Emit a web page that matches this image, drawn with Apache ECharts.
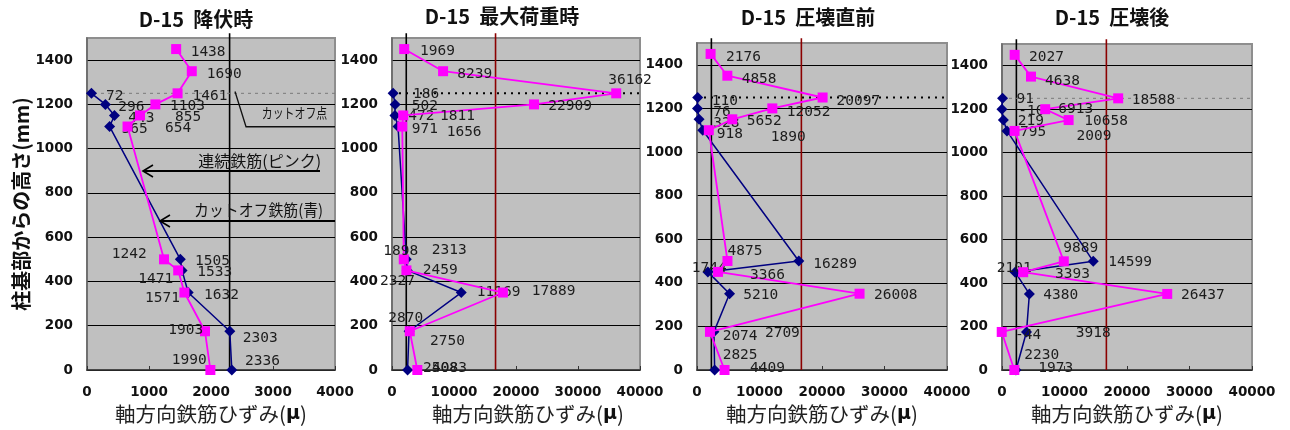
<!DOCTYPE html>
<html>
<head>
<meta charset="utf-8">
<script src="https://cdn.jsdelivr.net/npm/echarts@6/dist/echarts.min.js"></script>
<style>
  html, body { margin: 0; padding: 0; background: #fff; }
  #chart { width: 1290px; height: 430px; }
</style>
</head>
<body>
<div id="chart"></div>
<script>
// Gauge heights above the column base (mm)
const heightsCutoff = [1250, 1200, 1150, 1100, 500, 450, 350, 175, 0];
const heightsContinuous = [1450, 1350, 1250, 1200, 1150, 1100, 500, 450, 350, 175, 0];

const stageTitles = ['D-15  降伏時', 'D-15  最大荷重時', 'D-15  圧壊直前', 'D-15  圧壊後'];

// Axial strain of the cut-off bars (blue), one list per loading stage (μ)
const cutoffYield   = [72, 296, 443, 365, 1505, 1533, 1632, 2303, 2336];
const cutoffPeak    = [186, 502, 472, 971, 2313, 2459, 11169, 2750, 2508];
const cutoffPreCrush = [110, 76, 328, 918, 16289, 1744, 5210, 2709, 2825];
const cutoffPostCrush = [91, -10, 219, 795, 14599, 2101, 4380, 3918, 2230];

// Axial strain of the continuous bars (pink), one list per loading stage (μ)
const contYield   = [1438, 1690, 1461, 1103, 855, 654, 1242, 1471, 1571, 1903, 1990];
const contPeak    = [1969, 8239, 36162, 22909, 1811, 1656, 1898, 2327, 17889, 2870, 4083];
const contPreCrush = [2176, 4858, 20097, 12052, 5652, 1890, 4875, 3366, 26008, 2074, 4409];
const contPostCrush = [2027, 4638, 18588, 6913, 10658, 2009, 9889, 3393, 26437, -44, 1973];

// Reference values
const yieldStrain = 2300;
const hardeningStrain = 16700;
const cutoffHeight = 1250;

// X axis extents per panel
const xMaxList = [4000, 40000, 40000, 40000];
const xStepList = [1000, 10000, 10000, 10000];

// Label placement: [dx, dy, 'r'?] relative to the marker centre
const labCut = [
  [[14.5, 3.3], [13, 3], [13.8, 3.2], [12, 3], [14.7, 1.7], [15.3, 2], [15.8, 2.5], [13, 6.7], [13.2, -8.5]],
  [[19.8, 0.6], [16.6, 2], [13.4, 1.2], [13.7, 2.6], [25.4, -9.3], [15.5, -0.4], [15.5, 0], [21, 9.7], [15.5, -2]],
  [[14, 4.2], [15.8, 4], [14.3, 3.7], [14, 4.3], [14.5, 3.7], [-16.2, -3.6], [13.7, 2], [51, 1.4], [8, -14.7]],
  [[14, 1.4], [16.4, 1.6], [14.3, 1.4], [13, 1.2], [15.1, 1], [-18.4, -4.2], [13.9, 1.7], [49.2, 1.3], [8.4, -15]]
];
const labCont = [
  [[14.5, 3], [15, 2.6], [15, 2.6], [14.6, 1.4], [35, 1.5], [37.5, 1.7], [-17.3, -5.3, 'r'], [-5, 8.6, 'r'], [-4.4, 5.5, 'r'], [-1.7, -1.3, 'r'], [-3.7, -9.3, 'r']],
  [[15.8, 2], [14.2, 2.8], [-8, -12.6], [14.3, 1.4], [36.8, 1.2], [44.4, 6], [-20.5, -7.6], [-26.4, 10.4], [28.8, -0.8], [-21.5, -13.3], [14.7, -1.7]],
  [[15.4, 3.6], [14.3, 4], [14, 4.2], [14.4, 3.6], [14.4, 2.4], [62, 6.8], [0, -10], [32, 3], [14.4, 2], [12.7, 4.8], [25.4, -2]],
  [[14.3, 2.6], [14, 4.2], [13.5, 2.4], [13.1, -0.2], [15.7, 1.6], [62, 5.7], [-0.5, -12.6], [31.8, 2.5], [13.8, 1.7], [13.3, 3.3], [24, -2]]
];

const cutoffSets = [cutoffYield, cutoffPeak, cutoffPreCrush, cutoffPostCrush];
const contSets = [contYield, contPeak, contPreCrush, contPostCrush];

const gridBoxes = [
  { left: 87, top: 38, width: 248, height: 332 },
  { left: 392, top: 38, width: 248, height: 332 },
  { left: 697, top: 43, width: 250, height: 327 },
  { left: 1002, top: 44, width: 250, height: 326 }
];
const titlePos = [[196, 9], [502, 6], [808, 7], [1112, 7]];

const tickFont = { fontFamily: 'DejaVu Sans', fontWeight: 'bold', fontSize: 13.5, color: '#111' };
const labelFont = { fontFamily: 'DejaVu Sans Mono', fontSize: 14.5, color: '#1c1c1c' };
const cjk = 'Noto Sans CJK JP';

function pointData(xs, hs, offsets) {
  return xs.map((v, i) => {
    const o = offsets[i];
    return {
      value: [v, hs[i]],
      label: {
        show: true,
        position: 'inside',
        align: o[2] === 'r' ? 'right' : 'left',
        verticalAlign: 'middle',
        offset: [o[0], o[1]],
        formatter: String(v),
        ...labelFont
      }
    };
  });
}

const plain = v => String(v);
const grid = [], xAxis = [], yAxis = [], series = [], title = [];

gridBoxes.forEach((g, i) => {
  grid.push({
    ...g, show: true, backgroundColor: '#c0c0c0',
    borderColor: '#8e8e8e', borderWidth: 2
  });
  title.push({
    text: stageTitles[i], left: titlePos[i][0], top: titlePos[i][1], textAlign: 'center', padding: 0,
    textStyle: { fontFamily: cjk, fontSize: 20, fontWeight: 'bold', color: '#111' }
  });
  xAxis.push({
    type: 'value', gridIndex: i, min: 0, max: xMaxList[i], interval: xStepList[i],
    name: '軸方向鉄筋ひずみ({b|μ})', nameLocation: 'middle', nameGap: 31,
    nameTextStyle: {
      fontFamily: cjk, fontSize: 20.5, color: '#222',
      padding: i === 1 ? [0, 0, 0, 24] : 0,
      rich: { b: { fontFamily: 'DejaVu Sans', fontWeight: 'bold', fontSize: 19, color: '#111' } }
    },
    axisLine: { show: true, lineStyle: { color: '#333', width: 1.5 } },
    axisTick: { show: true, inside: true, length: 4, lineStyle: { color: '#333' } },
    axisLabel: { ...tickFont, margin: 15, formatter: plain },
    splitLine: { show: false }
  });
  yAxis.push({
    type: 'value', gridIndex: i, min: 0, max: 1500, interval: 200,
    name: i === 0 ? '柱基部からの高さ(mm)' : '',
    nameLocation: 'middle', nameRotate: 90, nameGap: 56,
    nameTextStyle: { fontFamily: cjk, fontSize: 20, fontWeight: 'bold', color: '#111' },
    axisLine: { show: true, lineStyle: { color: '#666', width: 1.5 } },
    axisTick: { show: false },
    axisLabel: { ...tickFont, margin: 14, showMaxLabel: false, formatter: plain },
    splitLine: { show: true, showMaxLine: false, lineStyle: { color: '#000', width: 1 } }
  });

  const xMax = xMaxList[i];
  // yield strain reference line
  series.push({
    type: 'line', xAxisIndex: i, yAxisIndex: i, silent: true, clip: false, symbol: 'none', z: 1,
    data: [[yieldStrain, 0], [yieldStrain, 1522]],
    lineStyle: { color: '#000', width: 1.6 }
  });
  if (i > 0) {
    series.push({
      type: 'line', xAxisIndex: i, yAxisIndex: i, silent: true, clip: false, symbol: 'none', z: 1,
      data: [[hardeningStrain, 0], [hardeningStrain, 1522]],
      lineStyle: { color: '#8b0000', width: 1.6 }
    });
  }
  // cut-off point level
  const bold = i === 1 || i === 2;
  series.push({
    type: 'line', xAxisIndex: i, yAxisIndex: i, silent: true, clip: false, symbol: 'none', z: 1,
    data: [[0, cutoffHeight], [i === 2 ? xMax : xMax * 1.016, cutoffHeight]],
    lineStyle: bold
      ? { color: '#000', width: 2, type: [2, 5] }
      : { color: '#7a7a7a', width: 1, type: [3, 4] }
  });
  // cut-off bars
  series.push({
    name: 'カットオフ鉄筋', type: 'line', xAxisIndex: i, yAxisIndex: i, z: 3, clip: false,
    symbol: 'diamond', symbolSize: 11,
    itemStyle: { color: '#000080' },
    lineStyle: { color: '#000080', width: 1.5 },
    data: pointData(cutoffSets[i], heightsCutoff, labCut[i])
  });
  // continuous bars
  series.push({
    name: '連続鉄筋', type: 'line', xAxisIndex: i, yAxisIndex: i, z: 4, clip: false,
    symbol: 'rect', symbolSize: 10,
    itemStyle: { color: '#ff00ff' },
    lineStyle: { color: '#ff00ff', width: 1.8 },
    data: pointData(contSets[i], heightsContinuous, labCont[i])
  });
});

const chart = echarts.init(document.getElementById('chart'));
chart.setOption({
  animation: false,
  backgroundColor: '#fff',
  title, grid, xAxis, yAxis, series
});

// Annotations of the first panel, anchored in data units (strain, height)
const calloutPath = [[2387, 1258], [2565, 1099], [4000, 1099]];
const arrowContinuous = [[903, 899], [3758, 899]];
const arrowCutoff = [[1177, 673], [4000, 673]];
const noteCutoffPoint = { text: 'カットオフ点', at: [2818, 1164], size: 14, scaleX: 0.78 };
const noteContinuous = { text: '連続鉄筋(ピンク)', at: [1795, 944], size: 16, scaleX: 1 };
const noteCutoffBar = { text: 'カットオフ鉄筋(青)', at: [1726, 723], size: 16, scaleX: 0.93 };

const px = p => chart.convertToPixel({ gridIndex: 0 }, p);

function arrow(seg) {
  const tip = px(seg[0]), tail = px(seg[1]);
  return [
    { type: 'line', shape: { x1: tip[0], y1: tip[1], x2: tail[0], y2: tail[1] },
      style: { stroke: '#000', lineWidth: 2 }, z: 50 },
    { type: 'polyline', shape: { points: [[tip[0] + 10, tip[1] - 6], tip, [tip[0] + 10, tip[1] + 6]] },
      style: { stroke: '#000', lineWidth: 1.6, fill: null }, z: 50 }
  ];
}
function note(n) {
  const p = px(n.at);
  return {
    type: 'text', x: p[0], y: p[1], scaleX: n.scaleX, z: 50,
    style: { text: n.text, fontFamily: cjk, fontSize: n.size, fill: '#111',
      textAlign: 'left', textVerticalAlign: 'middle' }
  };
}

chart.setOption({
  graphic: [
    { type: 'polyline', shape: { points: calloutPath.map(px) },
      style: { stroke: '#111', lineWidth: 1.3, fill: null }, z: 50 },
    ...arrow(arrowContinuous),
    ...arrow(arrowCutoff),
    note(noteCutoffPoint),
    note(noteContinuous),
    note(noteCutoffBar)
  ]
});
</script>
</body>
</html>
